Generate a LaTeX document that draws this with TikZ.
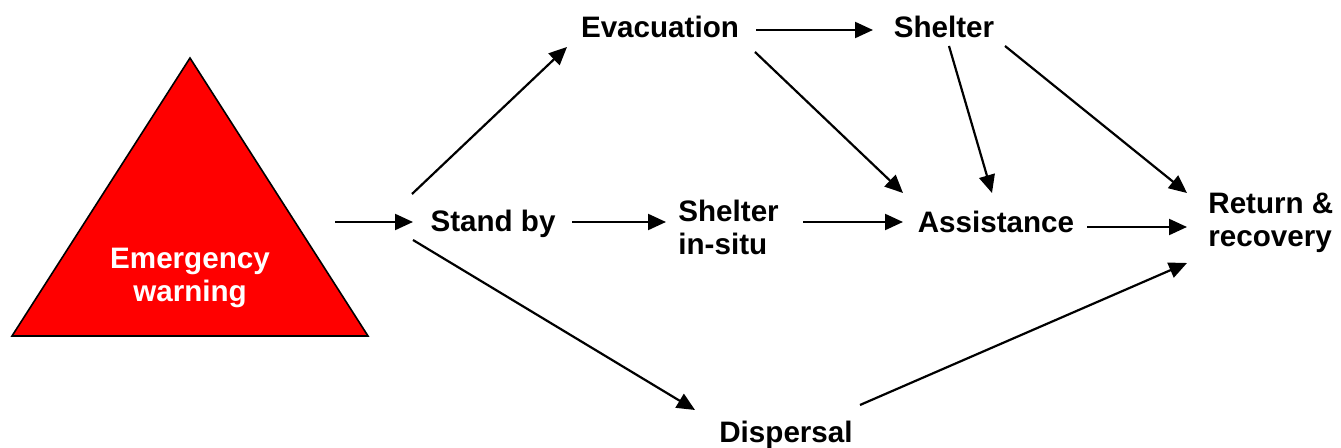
\documentclass[tikz,border=0pt]{standalone}
\usepackage{fontspec}
\setmainfont{Liberation Sans}
\usetikzlibrary{arrows.meta,calc}
\begin{document}
\begin{tikzpicture}[x=0.5pt,y=-0.5pt,
  lbl/.style={font=\fontsize{14.8}{16.5}\selectfont\bfseries, inner sep=0pt, anchor=base},
  arr/.style={line width=1.1pt, -{Triangle[length=9pt,width=8pt]}}]
\useasboundingbox (0,0) rectangle (1341,448);
\filldraw[fill=red,draw=black,line width=0.8pt] (190,58) -- (368,336) -- (12,336) -- cycle;
\node[lbl,text=white,align=center] (warn) at (190,302) {Emergency\\warning};
\coordinate (warnout) at (335,222);
\node[lbl] (standby) at (493,232) {Stand by};
\node[lbl] (evac) at (660,38) {Evacuation};
\node[lbl] (shelter) at (944,38) {Shelter};
\node[lbl,anchor=base west,align=left] (insitu) at (678,255) {Shelter\\in-situ};
\node[lbl] (assist) at (996,233) {Assistance};
\node[lbl,anchor=base west,align=left] (return) at (1208,247) {Return \&\\recovery};
\node[lbl] (disp) at (786,443) {Dispersal};
% connectors
\draw[arr] (warnout) -- ($(standby.base)+(-80,-10)$);
\draw[arr] ($(standby.base)+(-81,-38)$) -- ($(evac.base)+(-93,9)$);
\draw[arr] ($(standby.base)+(79,-10)$) -- ($(insitu.base west)+(-12,-33)$);
\draw[arr] ($(standby.base)+(-80,8)$) -- ($(disp.base)+(-91,-33)$);
\draw[arr] ($(evac.base)+(96,-8)$) -- ($(shelter.base)+(-71,-8)$);
\draw[arr] ($(evac.base)+(95,14)$) -- ($(assist.base)+(-93,-40)$);
\draw[arr] ($(insitu.base west)+(125,-33)$) -- ($(assist.base)+(-93,-11)$);
\draw[arr] ($(shelter.base)+(5,8)$) -- ($(assist.base)+(-4,-40)$);
\draw[arr] ($(shelter.base)+(61,8)$) -- ($(return.base west)+(-21,-54)$);
\draw[arr] ($(assist.base)+(91,-6)$) -- ($(return.base west)+(-21,-20)$);
\draw[arr] ($(disp.base)+(74,-38)$) -- ($(return.base west)+(-21,16)$);
\end{tikzpicture}
\end{document}
